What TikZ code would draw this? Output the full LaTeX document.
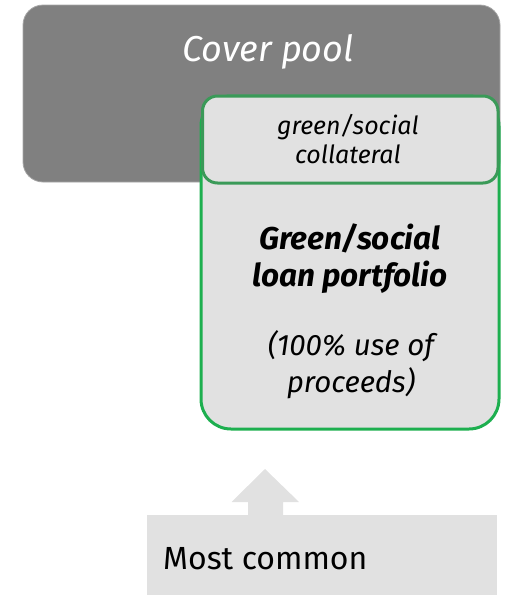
\documentclass[tikz,border=0pt]{standalone}
\usepackage{fontspec}
\setmainfont{Fira Sans}
\definecolor{poolgray}{HTML}{808080}
\definecolor{pooledge}{HTML}{A6A6A6}
\definecolor{boxfill}{HTML}{E1E1E1}
\definecolor{greenedge}{HTML}{1DAF4F}
\definecolor{darkgreen}{HTML}{3A9A58}
\begin{document}
\begin{tikzpicture}[x=1pt,y=-1pt,
  pool/.style={fill=poolgray,draw=pooledge,line width=0.8pt,rounded corners=20pt},
  portfolio/.style={fill=boxfill,draw=greenedge,line width=3pt,rounded corners=30pt},
  collat/.style={fill=boxfill,draw=darkgreen,line width=3pt,rounded corners=15pt},
  label/.style={align=center,inner sep=0pt}]
  \useasboundingbox (0,0) rectangle (508,595);
  % cover pool
  \draw[pool] (23,5) rectangle (500,182);
  \node[label,text=white,font=\fontsize{36}{40}\selectfont\itshape] (cover) at (268,52) {Cover pool};
  % green/social loan portfolio
  \draw[portfolio] (201,96) rectangle (499,429);
  \draw[collat] (202.5,96) rectangle (498,183);
  \node[label,font=\fontsize{25}{29}\selectfont\itshape] (collateral) at (348,139) {green/social\\collateral};
  \node[label,font=\fontsize{31.5}{37}\selectfont\bfseries\itshape] (loans) at (350,259) {Green/social\\loan portfolio};
  \node[label,font=\fontsize{29.5}{37}\selectfont\itshape] (proceeds) at (351,365) {(100\% use of\\proceeds)};
  % bottom bar with arrow
  \fill[boxfill] (147,515) rectangle (497,595);
  \fill[boxfill] (248,516) -- (248,502) -- (231.5,502) -- (265,469) -- (299,502) -- (283,502) -- (283,516) -- cycle;
  \node[anchor=base west,inner sep=0pt,font=\fontsize{32}{36}\selectfont] (common) at (163,569) {Most common};
\end{tikzpicture}
\end{document}
